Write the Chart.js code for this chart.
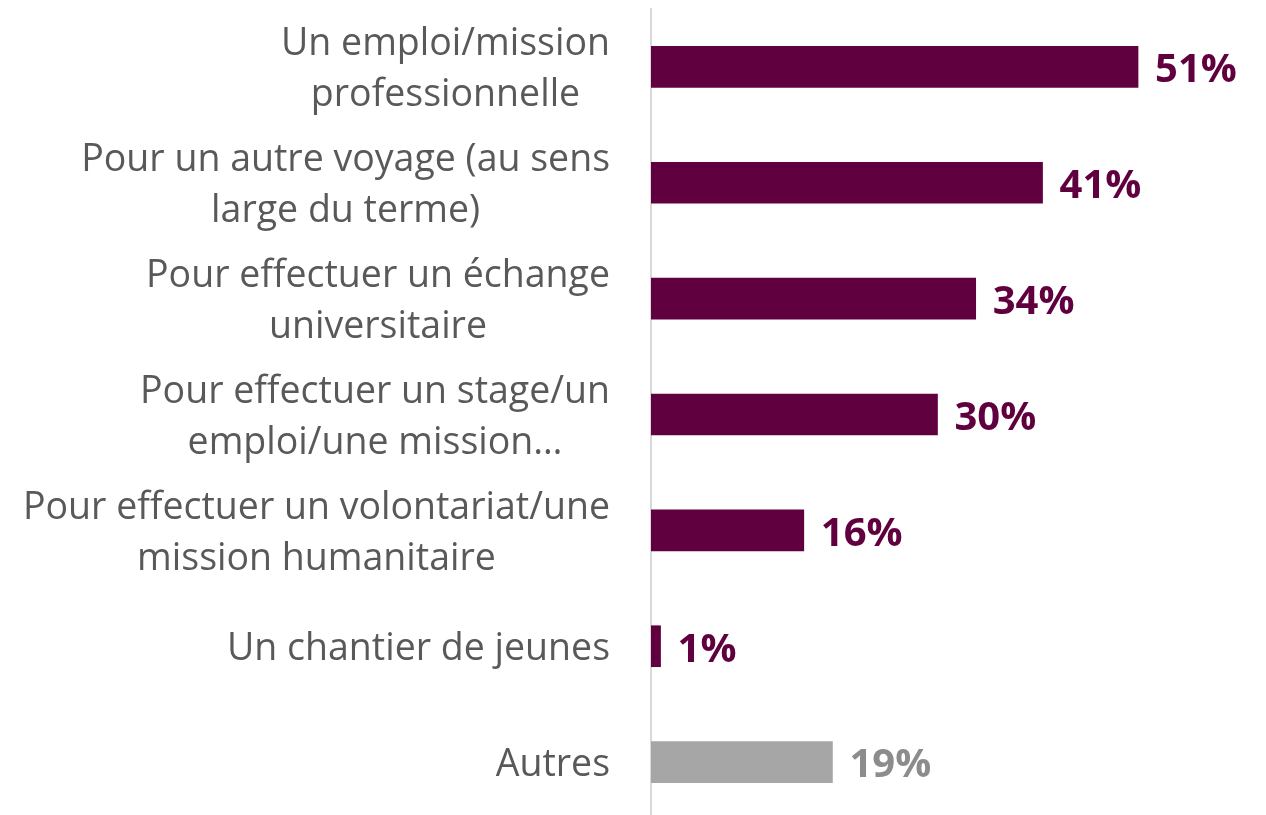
<!DOCTYPE html>
<html>
<head>
<meta charset="utf-8">
<script src="https://cdn.jsdelivr.net/npm/chart.js@4.4.1/dist/chart.umd.min.js"></script>
<style>
  html, body { margin: 0; padding: 0; background: #ffffff; overflow: hidden; }
  #wrap { width: 1266px; height: 820px; }
</style>
</head>
<body>
<div id="wrap"><canvas id="chart" width="1266" height="820"></canvas></div>
<script>
const categories = [
  ["Un emploi/mission", "professionnelle"],
  ["Pour un autre voyage (au sens", "large du terme)"],
  ["Pour effectuer un échange", "universitaire"],
  ["Pour effectuer un stage/un", "emploi/une mission…"],
  ["Pour effectuer un volontariat/une", "mission humanitaire"],
  ["Un chantier de jeunes"],
  ["Autres"],
];
const values = [51, 41, 34, 30, 16, 1, 19];

const purple = "#61003e";
const greyBar = "#a6a6a6";
const barColors = values.map((v, i) => (i === values.length - 1 ? greyBar : purple));
const valueColors = values.map((v, i) => (i === values.length - 1 ? "#8c8c8c" : purple));

const labelFont = '37.5px "Open Sans"';
const valueFont = 'bold 40px "Open Sans"';

const sideLabels = {
  id: "sideLabels",
  afterDatasetsDraw(chart) {
    const ctx = chart.ctx;
    const yScale = chart.scales.y;
    const meta = chart.getDatasetMeta(0);
    const rightEdge = 610;
    const lineHeight = 51;

    ctx.save();
    ctx.font = labelFont;
    ctx.fillStyle = "#595959";
    ctx.textBaseline = "middle";
    ctx.textAlign = "center";
    categories.forEach((lines, i) => {
      const cy = yScale.getPixelForValue(i) + 3;
      const blockWidth = Math.max(...lines.map((l) => ctx.measureText(l).width));
      const cx = rightEdge - blockWidth / 2;
      const startY = cy - ((lines.length - 1) * lineHeight) / 2;
      lines.forEach((line, j) => ctx.fillText(line, cx, startY + j * lineHeight));
    });

    ctx.font = valueFont;
    ctx.textAlign = "left";
    meta.data.forEach((bar, i) => {
      ctx.fillStyle = valueColors[i];
      ctx.fillText(values[i] + "%", bar.x + 17, bar.y + 4);
    });
    ctx.restore();
  },
};

new Chart(document.getElementById("chart"), {
  type: "bar",
  data: {
    labels: categories.map((c) => c.join(" ")),
    datasets: [{
      data: values,
      backgroundColor: barColors,
      borderWidth: 0,
      barThickness: 41,
    }],
  },
  options: {
    indexAxis: "y",
    responsive: false,
    animation: false,
    layout: { padding: { top: 9, right: 42, bottom: 0, left: 0 } },
    plugins: { legend: { display: false }, tooltip: { enabled: false } },
    scales: {
      x: { display: false, min: 0, max: 60 },
      y: {
        display: true,
        ticks: { display: false },
        grid: { display: false, drawTicks: false },
        border: { display: true, color: "#d9d9d9", width: 2 },
        afterFit(scale) { scale.width = 651; },
      },
    },
  },
  plugins: [sideLabels],
});
</script>
</body>
</html>
